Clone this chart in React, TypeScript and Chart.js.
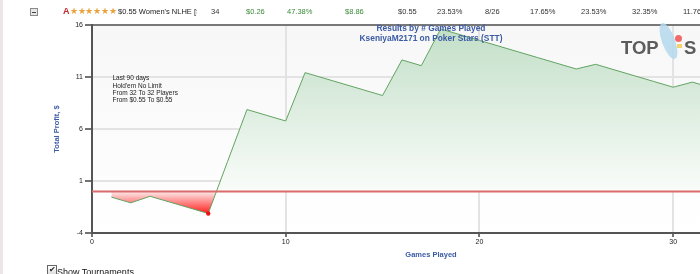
import React, { useEffect, useRef } from "react";
import { Chart, registerables } from "chart.js";

Chart.register(...registerables);

// ---- data ----
const games = [1, 2, 3, 4, 5, 6, 7, 8, 9, 10, 11, 12, 13, 14, 15, 16, 17, 18, 19, 20, 21, 22, 23, 24, 25, 26, 27, 28, 29, 30, 31, 32, 33, 34];
const profit = [
  -0.55, -1.1, -0.47, -1.02, -1.57, -2.12, 2.88, 7.87, 7.32, 6.77,
  11.42, 10.87, 10.32, 9.77, 9.22, 12.64, 12.09, 15.62, 15.07, 14.52,
  13.97, 13.42, 12.87, 12.32, 11.77, 12.22, 11.67, 11.12, 10.57, 10.02,
  10.51, 9.96, 9.41, 8.86,
];
const breakEven = 0;
const xMin = 0;
const xMax = 35;
const xStep = 10;
const yMin = -4;
const yMax = 16;
const yStep = 5;
const chartTitle = "Results by # Games Played";
const chartSubtitle = "KseniyaM2171 on Poker Stars (STT)";
const filterNotes = ["Last 90 days", "Hold'em No Limit", "From 32 To 32 Players", "From $0.55 To $0.55"];
const xAxisTitle = "Games Played";
const yAxisTitle = "Total Profit, $";
const rowName = "$0.55 Women's NLHE [STT]";
const rowValues = ["34", "$0.26", "47.38%", "$8.86", "$0.55", "23.53%", "8/26", "17.65%", "23.53%", "32.35%", "11.76%"];
const rowGreen = [false, true, true, true, false, false, false, false, false, false, false];

const FONT = 'Arial, "Liberation Sans", sans-serif';
const BLUE = "#3b5ba5";

export default function App() {
  const ref = useRef<HTMLCanvasElement>(null);

  useEffect(() => {
    const canvas = ref.current!;
    const minV = Math.min(...profit);
    const maxV = Math.max(...profit);

    const fillGrad = (c: any) => {
      const chart = c.chart;
      const a = chart.chartArea;
      if (!a) return "rgba(0,0,0,0)";
      const ys = chart.scales.y;
      const h = a.bottom - a.top;
      const clamp = (v: number) => Math.min(1, Math.max(0, v));
      const z = clamp((ys.getPixelForValue(breakEven) - a.top) / h);
      const pMax = clamp((ys.getPixelForValue(maxV) - a.top) / h);
      const pMin = clamp((ys.getPixelForValue(minV) - a.top) / h);
      const g = chart.ctx.createLinearGradient(0, a.top, 0, a.bottom);
      g.addColorStop(0, "#c0ddc5");
      g.addColorStop(pMax, "#c3dfc8");
      g.addColorStop(Math.max(pMax, z - 0.004), "#f9fcf9");
      g.addColorStop(Math.min(1, z + 0.004), "#ffe4e4");
      g.addColorStop(pMin, "#ff2020");
      g.addColorStop(1, "#ff0000");
      return g;
    };

    const bgPlugin = {
      id: "bgPlugin",
      beforeDraw(chart: any) {
        const { ctx, chartArea: a } = chart;
        if (!a) return;
        ctx.save();
        const g = ctx.createLinearGradient(0, a.top, 0, a.bottom);
        g.addColorStop(0, "#f7f7f7");
        g.addColorStop(1, "#ffffff");
        ctx.fillStyle = g;
        ctx.fillRect(a.left, a.top, a.right - a.left, a.bottom - a.top);
        ctx.restore();
      },
      afterDraw(chart: any) {
        const { ctx, chartArea: a } = chart;
        ctx.save();
        ctx.strokeStyle = "#555";
        ctx.lineWidth = 1.5;
        ctx.beginPath();
        ctx.moveTo(a.left, a.top);
        ctx.lineTo(a.right, a.top);
        ctx.lineTo(a.right, a.bottom);
        ctx.stroke();

        const cx = (a.left + a.right) / 2;
        ctx.fillStyle = BLUE;
        ctx.font = `bold 8.4px ${FONT}`;
        ctx.textAlign = "center";
        ctx.textBaseline = "middle";
        ctx.fillText(chartTitle, cx, a.top + 3.5);
        ctx.fillText(chartSubtitle, cx, a.top + 13.5);

        ctx.fillStyle = "#222";
        ctx.font = `6.5px ${FONT}`;
        ctx.textAlign = "left";
        filterNotes.forEach((t, i) => {
          ctx.fillText(t, a.left + 20.5, a.top + 53.3 + i * 7.45);
        });
        ctx.restore();
      },
    };

    const chart = new Chart(canvas, {
      type: "line",
      data: {
        datasets: [
          {
            label: "Total Profit",
            data: games.map((g, i) => ({ x: g, y: profit[i] })),
            borderColor: "#62a462",
            borderWidth: 1,
            fill: { value: breakEven },
            backgroundColor: fillGrad,
            pointRadius: profit.map((v) => (v === minV ? 2.2 : 0)),
            pointBackgroundColor: "#f01010",
            pointBorderWidth: 0,
            tension: 0,
            order: 1,
          },
          {
            label: "Break-even",
            data: [
              { x: xMin, y: breakEven },
              { x: xMax, y: breakEven },
            ],
            borderColor: "#d96b6b",
            borderWidth: 2,
            pointRadius: 0,
            fill: false,
            order: 0,
          },
        ],
      },
      plugins: [bgPlugin],
      options: {
        responsive: false,
        animation: false,
        devicePixelRatio: 1,
        layout: { padding: { left: 48, top: 25, right: 10, bottom: 0 } },
        plugins: {
          legend: { display: false },
          tooltip: { enabled: false },
          title: { display: false },
        },
        scales: {
          x: {
            type: "linear",
            position: "bottom",
            min: xMin,
            max: xMax,
            ticks: { stepSize: xStep, includeBounds: false, font: { size: 7, family: FONT }, color: "#222", padding: 1, maxRotation: 0 },
            grid: { color: "#e3e3e3", lineWidth: 2, tickLength: 4, tickColor: "#444", tickWidth: 1.5 },
            border: { color: "#555", width: 2 },
            title: { display: true, text: xAxisTitle, color: BLUE, font: { size: 7.5, weight: "bold", family: FONT }, padding: { top: 0, bottom: 15 } },
            afterFit: (s: any) => {
              s.height = 41;
            },
          },
          y: {
            min: yMin,
            max: yMax,
            ticks: { stepSize: yStep, font: { size: 7, family: FONT }, color: "#222", padding: 2 },
            grid: { color: "#e3e3e3", lineWidth: 2, tickLength: 7, tickColor: "#444", tickWidth: 1.5 },
            border: { color: "#555", width: 2 },
            title: { display: true, text: yAxisTitle, color: BLUE, font: { size: 7.5, weight: "bold", family: FONT }, padding: { top: 4.5, bottom: 0 } },
            afterFit: (s: any) => {
              s.width = 44;
            },
          },
        },
      } as any,
    });
    return () => chart.destroy();
  }, []);

  const cellLefts = [211, 246, 287, 345, 398, 437, 485, 530, 581, 632, 683];

  return (
    <div style={{ position: "fixed", left: 0, top: 0, width: 700, height: 274, overflow: "hidden", background: "#fff", fontFamily: FONT }}>
      <div style={{ position: "absolute", left: 0, top: 0, width: 3, height: 274, background: "#ece6e6" }} />
      <canvas ref={ref} width={780} height={274} style={{ position: "absolute", left: 0, top: 0, width: 780, height: 274 }} />

      {/* table row */}
      <div style={{ position: "absolute", left: 30, top: 8, width: 6, height: 6, border: "1px solid #8a8a8a", background: "#e6e6e6" }}>
        <div style={{ position: "absolute", left: 1, top: 2.5, width: 4, height: 1, background: "#444" }} />
      </div>
      <div style={{ position: "absolute", left: 63, top: 6, fontSize: 9, lineHeight: "11px", fontWeight: "bold", color: "#c0272d" }}>A</div>
      <div style={{ position: "absolute", left: 70, top: 5.5, fontSize: 9.2, lineHeight: "11px", color: "#e9a23b", whiteSpace: "nowrap", letterSpacing: -0.3 }}>
        ★★★★★★
      </div>
      <div style={{ position: "absolute", left: 118, top: 7, width: 79, overflow: "hidden", whiteSpace: "nowrap", fontSize: 7.5, lineHeight: "9px", color: "#222" }}>{rowName}</div>
      {rowValues.map((v, i) => (
        <div key={i} style={{ position: "absolute", left: cellLefts[i], top: 7, whiteSpace: "nowrap", fontSize: 7.5, lineHeight: "9px", color: rowGreen[i] ? "#3a8a3a" : "#333" }}>
          {v}
        </div>
      ))}

      {/* logo */}
      <div style={{ position: "absolute", left: 662, top: 22, width: 13, height: 38, borderRadius: "50%", background: "#b4d8ec", transform: "rotate(-20deg)", opacity: 0.85 }} />
      <div style={{ position: "absolute", left: 675, top: 35, width: 7, height: 7, borderRadius: "50%", background: "#f26b6b" }} />
      <div style={{ position: "absolute", left: 677, top: 44, width: 5, height: 4, background: "#f3d36a" }} />
      <div style={{ position: "absolute", left: 621, top: 39, fontSize: 18.5, lineHeight: "18.5px", fontWeight: "bold", color: "#5c5c5c" }}>TOP</div>
      <div style={{ position: "absolute", left: 684, top: 39, fontSize: 18.5, lineHeight: "18.5px", fontWeight: "bold", color: "#5c5c5c" }}>S</div>

      {/* checkbox */}
      <div style={{ position: "absolute", left: 47, top: 265, width: 8, height: 8, border: "1px solid #666", background: "linear-gradient(#fff,#ddd)", fontSize: 8, lineHeight: "8px", textAlign: "center", color: "#222" }}>✔</div>
      <div style={{ position: "absolute", left: 57, top: 267, fontSize: 9, lineHeight: "11px", color: "#111", whiteSpace: "nowrap" }}>Show Tournaments</div>
    </div>
  );
}
